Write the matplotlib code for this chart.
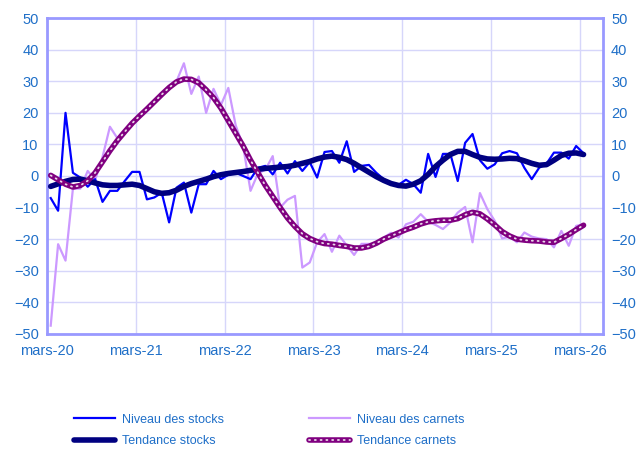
import numpy as np
import matplotlib
matplotlib.use("Agg")
import matplotlib.pyplot as plt
from matplotlib.legend_handler import HandlerTuple

plt.rcParams["font.family"] = ["Liberation Sans", "DejaVu Sans"]

# Monthly values, mars-20 .. mars-26
tick_labels = ["mars-20", "mars-21", "mars-22", "mars-23", "mars-24", "mars-25", "mars-26"]

niveau_stocks = [
    -7, -11, 20, 1, -0.5, -3.4, -1, -8.2, -4.7, -4.7, -1.6, 1.3,
    1.3, -7.4, -6.8, -5.3, -14.7, -3.7, -2.1, -11.6, -2.6, -2.6, 1.6, -1,
    0.4, 1, 0, -1, 2.6, 3.2, 0.5, 4.2, 0.8, 4.7, 1.6, 4.4,
    -0.5, 7.6, 7.9, 4.2, 11, 1.3, 3.2, 3.5, 1, -1, -2.6, -2.8,
    -1.2, -2.6, -5.3, 7, -0.3, 7, 7, -1.6, 10.5, 13.3, 5, 2.3,
    3.7, 7.2, 7.9, 7.2, 2.6, -1, 2.6, 3.9, 7.4, 7.4, 5.5, 9.5,
    7.2,
]
tendance_stocks = [
    -3.3, -2.5, -1.7, -1.1, -1, -1.5, -2.2, -2.8, -3, -3, -2.8, -2.6,
    -3, -4, -5, -5.5, -5.3, -4.5, -3.3, -2.4, -1.7, -1, -0.2, 0.4,
    0.8, 1.1, 1.4, 1.8, 2.1, 2.4, 2.6, 2.8, 3, 3.4, 4, 4.6,
    5.4, 6, 6.3, 5.9, 5.2, 4, 2.6, 1.2, -0.2, -1.4, -2.4, -3,
    -3.2, -2.6, -1.5, 0.5, 3, 5, 6.8, 7.8, 7.8, 6.8, 5.9, 5.4,
    5.3, 5.4, 5.6, 5.5, 4.8, 4, 3.4, 3.6, 5, 6.5, 7.2, 7.3,
    6.8,
]
niveau_carnets = [
    -47.4, -21.6, -26.8, -4, -4, 1.6, -1.3, 6, 15.6, 12, 14.5, 17,
    19, 21, 23.5, 25.5, 27.5, 30, 35.7, 26, 31.5, 20, 27.6, 22.5,
    27.9, 16, 9.5, -4.7, 0.8, 2, 6.3, -10, -7.5, -6.3, -29, -27.4,
    -21, -18.4, -24, -18.9, -22, -25, -21.5, -21.5, -21.6, -19.5, -18, -19.5,
    -15.3, -14.5, -12.1, -14.5, -15.5, -16.8, -14.7, -11.6, -9.8, -21, -5.4, -10.5,
    -14.2, -19.8, -19.2, -21, -17.9, -19.2, -19.8, -20, -22.6, -17.4, -22.1, -15.8,
    -15.3,
]
tendance_carnets = [
    0.2, -1.2, -2.6, -3.5, -3, -1.5, 1, 4.5, 8, 11.2, 14, 16.7,
    19, 21.2, 23.5, 25.8, 28, 29.8, 30.7, 30.6, 29.5, 27.3, 24.8, 21.5,
    17.5, 13.5, 9.5, 5, 1, -3, -6.5, -10, -13.3, -16, -18.3, -19.8,
    -20.8, -21.4, -21.6, -22, -22.3, -22.8, -22.8, -22.3, -21.3, -20, -19, -18,
    -17, -16.2, -15.2, -14.5, -14.2, -14, -14, -13.5, -12.3, -11.5, -12, -13.6,
    -15.5, -17.6, -19, -20, -20.3, -20.5, -20.6, -20.9, -21, -19.8, -18.5, -17,
    -15.6,
]

x = np.arange(len(niveau_stocks))
txt_color = "#1F6FC8"
frame_color = "#9999FF"
grid_color = "#D6D6FA"

fig = plt.figure(figsize=(6.44, 4.53), dpi=100)
ax = fig.add_axes([0.073, 0.263, 0.863, 0.697])

l1, = ax.plot(x, niveau_stocks, color="#0000FF", lw=1.6, zorder=3)
l3, = ax.plot(x, niveau_carnets, color="#CC99FF", lw=1.6, zorder=2)
l2, = ax.plot(x, tendance_stocks, color="#000080", lw=4, zorder=4,
              solid_capstyle="round")
l4a, = ax.plot(x, tendance_carnets, color="#800080", lw=4, zorder=5,
               solid_capstyle="round")
l4b, = ax.plot(x, tendance_carnets, color="#E8D8E8", lw=1.3, zorder=6,
               linestyle=(0, (0.6, 2.6)), dash_capstyle="round")

ax.set_xlim(-0.5, 74.6)
ax.set_ylim(-50, 50)
ax.set_xticks(np.arange(len(tick_labels)) * 12 - 0.5)
ax.set_xticklabels(tick_labels)
ax.set_yticks(np.arange(-50, 51, 10))
ax.grid(True, color=grid_color, lw=1)
ax.set_axisbelow(True)

for s in ax.spines.values():
    s.set_color(frame_color)
    s.set_linewidth(2)

ax.tick_params(axis="both", colors=txt_color, labelsize=10.5, length=0)
ax.tick_params(axis="x", pad=7)
ax.tick_params(axis="y", pad=6)

ax2 = ax.twinx()
ax2.set_ylim(-50, 50)
ax2.set_yticks(np.arange(-50, 51, 10))
ax2.tick_params(axis="y", colors=txt_color, labelsize=10.5, length=0, pad=6)
for s in ax2.spines.values():
    s.set_visible(False)

leg = fig.legend([l1, l2, l3, (l4a, l4b)],
                 ["Niveau des stocks", "Tendance stocks", "Niveau des carnets", "Tendance carnets"],
                 handler_map={tuple: HandlerTuple(ndivide=1)},
                 loc="center", bbox_to_anchor=(0.418, 0.05), ncol=2, frameon=False,
                 fontsize=9, handlelength=3.3, handletextpad=0.55,
                 columnspacing=6.75, labelspacing=0.75)
for t in leg.get_texts():
    t.set_color(txt_color)

fig.savefig("out.png", dpi=100)
